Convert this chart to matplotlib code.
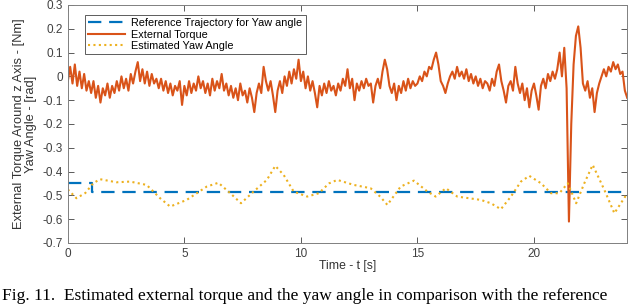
import numpy as np
import matplotlib
matplotlib.use('Agg')
import matplotlib.pyplot as plt

plt.rcParams['font.family'] = ['Liberation Sans', 'DejaVu Sans']

# reference yaw trajectory (step at t=1 s)
ref_t = [0.0, 1.05, 1.05, 24.0]
ref_yaw = [-0.45, -0.45, -0.485, -0.485]

# estimated yaw angle
est_t = [0.0, 0.37, 0.75, 1.09, 1.38, 2.09, 2.67, 3.38, 3.96, 4.39, 5.1, 5.96, 6.46,
         6.97, 7.43, 7.97, 8.54, 8.9, 9.26, 9.69, 10.27, 10.77, 11.2, 11.56, 12.27,
         12.99, 13.4, 13.71, 14.28, 14.85, 15.43, 15.78, 16.22, 16.71, 17.72, 18.15,
         18.58, 19.01, 19.44, 19.8, 20.3, 20.73, 21.09, 21.45, 21.81, 22.16, 22.52,
         23.02, 23.45, 23.96]
est_yaw = [-0.475, -0.512, -0.49, -0.449, -0.432, -0.445, -0.442, -0.456, -0.512,
           -0.547, -0.519, -0.463, -0.447, -0.491, -0.533, -0.484, -0.435, -0.376,
           -0.414, -0.484, -0.505, -0.491, -0.45, -0.435, -0.456, -0.47, -0.505,
           -0.54, -0.463, -0.438, -0.484, -0.505, -0.47, -0.505, -0.519, -0.533,
           -0.558, -0.505, -0.442, -0.418, -0.449, -0.491, -0.491, -0.449, -0.533,
           -0.449, -0.372, -0.477, -0.575, -0.498]

# external torque, sampled every 0.1 s
torque = [
    -0.02, 0.04, -0.03, 0.05, -0.04, 0.02, -0.05, 0.01, -0.06, -0.02,
    -0.07, -0.02, -0.09, -0.04, -0.11, -0.05, -0.08, -0.03, -0.09, -0.04,
    -0.07, -0.02, -0.06, 0.00, -0.05, -0.01, -0.06, 0.01, -0.03, 0.02,
    0.06, -0.02, 0.03, -0.03, 0.02, -0.04, 0.01, -0.03, -0.01, -0.05,
    -0.01, -0.06, -0.02, -0.07, -0.03, -0.08, -0.04, -0.06, -0.02, -0.12,
    -0.04, -0.08, -0.02, -0.07, -0.03, -0.06, 0.00, -0.05, -0.02, -0.07,
    -0.03, -0.08, -0.01, -0.06, -0.02, -0.05, 0.01, -0.06, -0.03, -0.08,
    -0.04, -0.09, -0.05, -0.10, -0.03, -0.08, -0.06, -0.11, -0.05, -0.09,
    -0.15, -0.07, -0.03, -0.07, 0.04, -0.02, -0.06, -0.02, -0.08, -0.15,
    -0.06, -0.02, -0.07, 0.00, -0.04, 0.02, -0.03, 0.03, -0.01, 0.07,
    -0.02, 0.02, -0.05, 0.00, -0.06, -0.02, -0.07, -0.13, -0.04, -0.08,
    -0.03, -0.07, -0.02, -0.06, -0.04, -0.08, -0.03, -0.06, -0.01, -0.04,
    0.03, -0.05, -0.01, -0.10, -0.03, -0.06, -0.02, -0.05, -0.01, -0.04,
    -0.03, -0.11, -0.04, -0.01, -0.05, 0.02, 0.07, 0.03, -0.04, -0.07,
    -0.03, -0.10, -0.04, -0.07, -0.02, -0.06, -0.01, -0.05, -0.02, -0.04,
    -0.03, 0.00, -0.02, 0.02, 0.00, 0.04, 0.03, 0.07, 0.10, 0.05,
    -0.02, -0.04, -0.07, -0.03, 0.00, 0.02, -0.01, 0.04, 0.00, 0.02,
    -0.01, 0.03, -0.02, 0.01, -0.03, 0.00, -0.04, -0.01, -0.05, -0.02,
    -0.03, -0.06, -0.01, -0.04, 0.02, 0.05, -0.02, -0.06, -0.11, -0.04,
    -0.02, -0.06, 0.04, -0.03, -0.07, -0.03, -0.10, -0.05, -0.13, -0.06,
    -0.03, -0.08, -0.14, -0.04, -0.01, -0.05, 0.01, -0.02, 0.02, -0.01,
    0.03, 0.10, 0.00, 0.12, -0.05, -0.61, -0.20, 0.05, 0.17, 0.21,
    0.12, -0.03, -0.06, -0.02, -0.09, -0.05, -0.15, -0.07, -0.03, 0.00,
    0.03, 0.00, 0.04, 0.02, 0.06, 0.03, 0.05, 0.01, 0.02, -0.06,
    -0.09,
]
torque_t = np.arange(len(torque)) * 0.1

BLUE = '#0072BD'
ORANGE = '#D95319'
YELLOW = '#EDB120'

fig = plt.figure(figsize=(6.4, 3.04), dpi=100)
ax = fig.add_axes([0.106, 0.2007, 0.874, 0.783])

ax.plot(ref_t, ref_yaw, '--', color=BLUE, lw=1.6, dashes=(6, 3.5),
        label='Reference Trajectory for Yaw angle')
ax.plot(torque_t, torque, '-', color=ORANGE, lw=1.5, label='External Torque')
ax.plot(est_t, est_yaw, ':', color=YELLOW, lw=1.5, dashes=(1, 1.6),
        label='Estimated Yaw Angle')

ax.set_xlim(0, 24)
ax.set_ylim(-0.7, 0.3)
ax.set_xticks([0, 5, 10, 15, 20])
ax.set_yticks(np.arange(-0.7, 0.31, 0.1))
ax.set_yticklabels(['-0.7', '-0.6', '-0.5', '-0.4', '-0.3', '-0.2', '-0.1', '0',
                    '0.1', '0.2', '0.3'])
ax.tick_params(direction='in', top=True, right=True, labelsize=8.5,
               colors='0.25', length=4, width=0.6)
for s in ax.spines.values():
    s.set_color('0.5')
    s.set_linewidth(0.7)

ax.set_xlabel('Time - t [s]', fontsize=8.8, color='0.2', labelpad=0)
ax.set_ylabel('External Torque Around z Axis - [Nm]\nYaw Angle - [rad]',
              fontsize=9.3, color='0.2', labelpad=4, linespacing=1.0)

leg = ax.legend(loc='upper left', bbox_to_anchor=(0.030, 0.958), fontsize=7.8,
                frameon=True, fancybox=False, borderpad=0.3, labelspacing=0.12,
                handlelength=3.4, handletextpad=0.6, borderaxespad=0)
leg.get_frame().set_edgecolor('0.2')
leg.get_frame().set_linewidth(0.7)

fig.text(0.003, 0.012,
         'Fig. 11.  Estimated external torque and the yaw angle in comparison with the reference',
         fontsize=12.5, family='Liberation Serif', va='baseline', ha='left')

fig.savefig('out.png', dpi=100)
